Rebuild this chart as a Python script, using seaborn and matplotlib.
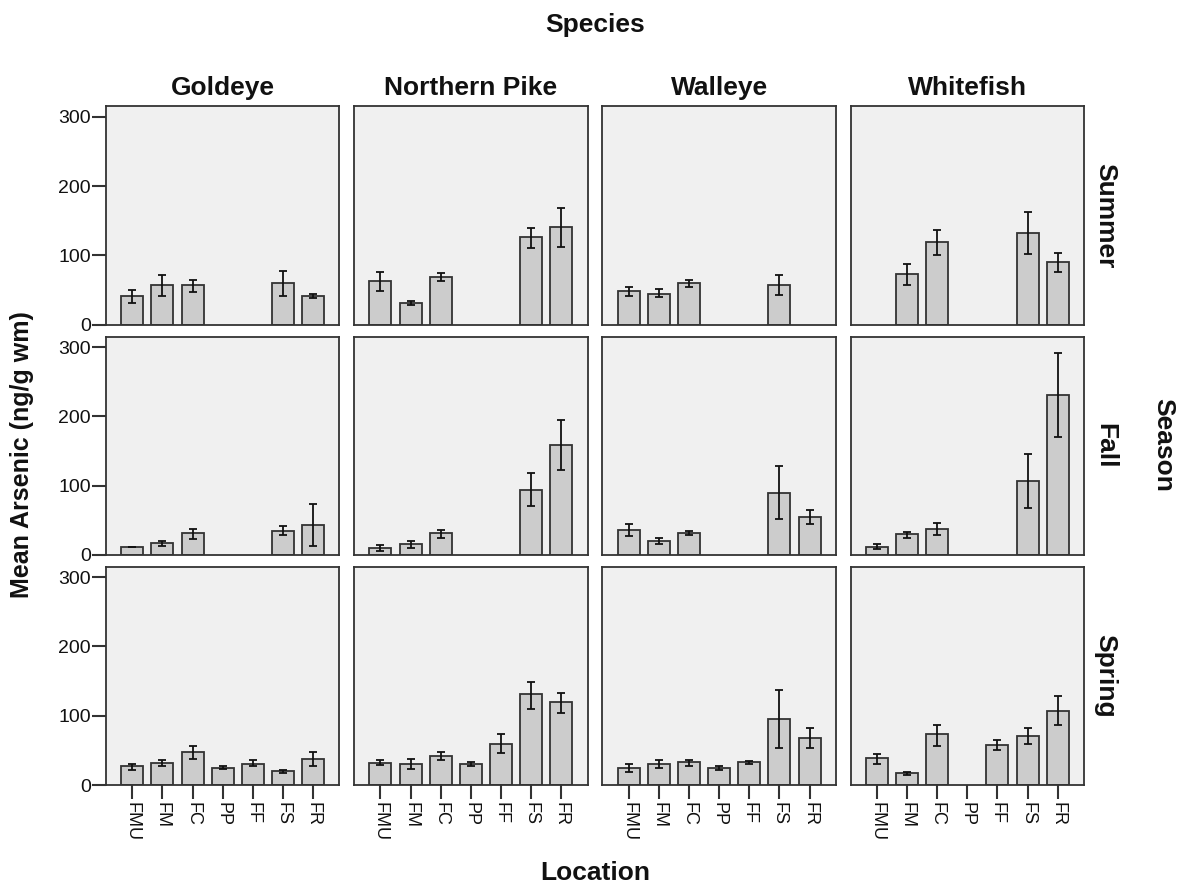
import numpy as np
import pandas as pd
import seaborn as sns
import matplotlib.pyplot as plt

locations = ["FMU", "FM", "FC", "PP", "FF", "FS", "FR"]
species = ["Goldeye", "Northern Pike", "Walleye", "Whitefish"]
seasons = ["Summer", "Fall", "Spring"]
nan = np.nan

# mean arsenic per species (rows) and location (columns)
summer_mean = [[41, 57, 57, nan, nan, 60, 41],
               [63, 31, 69, nan, nan, 127, 141],
               [48, 45, 60, nan, nan, 57, nan],
               [nan, 73, 119, nan, nan, 132, 90]]
summer_lo = [[32, 42, 47, nan, nan, 42, 38],
             [48, 29, 63, nan, nan, 111, 112],
             [41, 40, 54, nan, nan, 43, nan],
             [nan, 57, 101, nan, nan, 102, 76]]
summer_hi = [[50, 71, 65, nan, nan, 78, 45],
             [76, 34, 74, nan, nan, 140, 169],
             [55, 51, 65, nan, nan, 71, nan],
             [nan, 88, 137, nan, nan, 162, 103]]

fall_mean = [[12, 17, 31, nan, nan, 35, 43],
             [10, 15, 31, nan, nan, 94, 159],
             [36, 20, 31, nan, nan, 90, 55],
             [12, 30, 37, nan, nan, 106, 231]]
fall_lo = [[12, 13, 23, nan, nan, 28, 13],
           [6, 10, 25, nan, nan, 71, 122],
           [27, 16, 28, nan, nan, 52, 45],
           [8, 25, 28, nan, nan, 68, 170]]
fall_hi = [[12, 20, 38, nan, nan, 42, 74],
           [14, 20, 36, nan, nan, 118, 194],
           [45, 24, 34, nan, nan, 128, 65],
           [15, 33, 46, nan, nan, 145, 291]]

spring_mean = [[27, 32, 47, 25, 31, 20, 38],
               [32, 30, 42, 30, 59, 131, 120],
               [25, 30, 33, 24, 33, 95, 68],
               [39, 17, 73, nan, 58, 71, 107]]
spring_lo = [[21, 27, 38, 23, 27, 18, 27],
             [29, 23, 36, 27, 46, 110, 104],
             [19, 24, 28, 21, 30, 53, 53],
             [31, 15, 57, nan, 50, 59, 87]]
spring_hi = [[30, 36, 56, 28, 36, 22, 48],
             [36, 38, 47, 33, 73, 148, 133],
             [30, 36, 36, 27, 35, 137, 82],
             [45, 19, 87, nan, 65, 82, 128]]

means = [summer_mean, fall_mean, spring_mean]
lows = [summer_lo, fall_lo, spring_lo]
highs = [summer_hi, fall_hi, spring_hi]

sns.set_theme(style="white")
plt.rcParams["font.family"] = ["Liberation Sans", "DejaVu Sans"]
plt.rcParams["text.color"] = "#111111"
plt.rcParams["xtick.color"] = "#111111"
plt.rcParams["ytick.color"] = "#111111"

big = 19

fig, axes = plt.subplots(3, 4, figsize=(11.84, 8.88), dpi=100, sharex=True, sharey=True)
fig.subplots_adjust(left=106 / 1184, right=1084 / 1184, top=1 - 106.5 / 888,
                    bottom=1 - 785 / 888, wspace=0.064, hspace=0.055)

for r, season in enumerate(seasons):
    for c, sp in enumerate(species):
        ax = axes[r, c]
        df = pd.DataFrame({"Location": locations, "Arsenic": means[r][c]})
        sns.barplot(data=df, x="Location", y="Arsenic", order=locations, ax=ax,
                    color="#cccccc", edgecolor="#333333", linewidth=1.3,
                    width=0.73, errorbar=None, saturation=1)
        m = np.array(means[r][c], dtype=float)
        lo = np.array(lows[r][c], dtype=float)
        hi = np.array(highs[r][c], dtype=float)
        ok = ~np.isnan(m)
        xs = np.arange(len(locations))[ok]
        ax.errorbar(xs, m[ok], yerr=[m[ok] - lo[ok], hi[ok] - m[ok]], fmt="none",
                    ecolor="#111111", elinewidth=1.3, capsize=3, capthick=1.3)
        ax.set_facecolor("#f0f0f0")
        for s in ax.spines.values():
            s.set_color("#333333")
            s.set_linewidth(1.3)
        ax.set_xlim(-0.87, 6.87)
        ax.set_ylim(0, 315)
        ax.set_xlabel("")
        ax.set_ylabel("")
        ax.tick_params(axis="both", length=0)
        if c == 0:
            ax.tick_params(axis="y", length=10, width=1.5, color="#333333",
                           labelsize=14, left=True, pad=1)
        if r == 2:
            ax.tick_params(axis="x", length=10, width=1.5, color="#333333",
                           labelsize=13, bottom=True, pad=2)
            for lab in ax.get_xticklabels():
                lab.set_rotation(270)
                lab.set_va("top")
        if r == 0:
            ax.set_title(sp, fontsize=big, fontweight="bold", pad=8)
        if c == 3:
            ax.text(1.09, 0.5, season, transform=ax.transAxes, rotation=270,
                    ha="center", va="center", fontsize=big, fontweight="bold")

axes[0, 0].set_yticks([0, 100, 200, 300])

fig.text(595 / 1184, 1 - 25 / 888, "Species", ha="center", va="center",
         fontsize=big, fontweight="bold")
fig.text(1163 / 1184, 1 - 445 / 888, "Season", ha="center", va="center",
         rotation=270, fontsize=big, fontweight="bold")
fig.text(22 / 1184, 1 - 455 / 888, "Mean Arsenic (ng/g wm)", ha="center",
         va="center", rotation=90, fontsize=18, fontweight="bold")
fig.text(595 / 1184, 1 - 873 / 888, "Location", ha="center", va="center",
         fontsize=big, fontweight="bold")

fig.savefig("out.png", dpi=100, facecolor="white")
